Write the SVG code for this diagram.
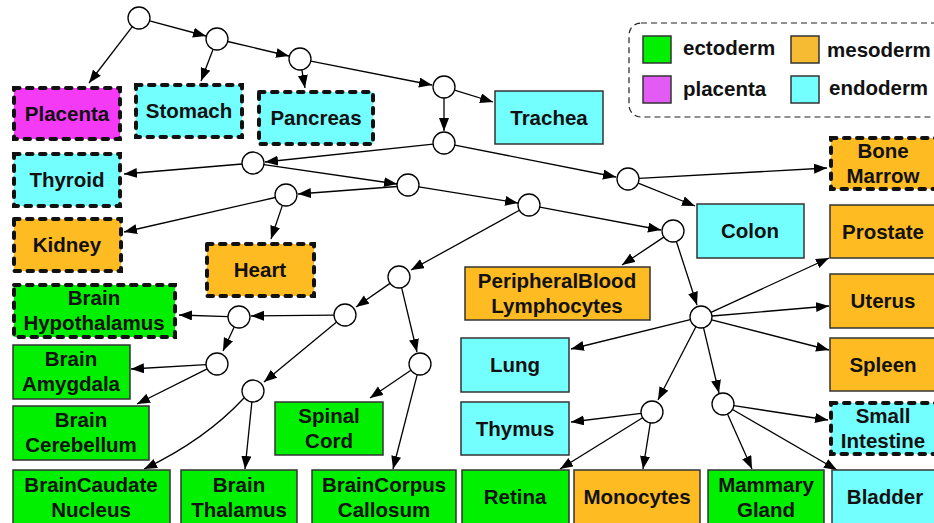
<svg xmlns="http://www.w3.org/2000/svg" width="934" height="523" viewBox="0 0 934 523">
<defs>
<marker id="ah" markerUnits="userSpaceOnUse" markerWidth="14" markerHeight="11" refX="13" refY="5" orient="auto">
<path d="M0,0 L13,5 L0,10 z" fill="#000"/>
</marker>
<style>
text{font-family:"Liberation Sans",Arial,sans-serif;font-weight:bold;font-size:20.5px;fill:#111;text-anchor:middle}
.lg{text-anchor:start}
.s{stroke:#333;stroke-width:1.5}
.d{stroke:#111;stroke-width:4;stroke-dasharray:5.5 7.5;stroke-linecap:round}
.ec{fill:#00F000}.me{fill:#FFBB22}.en{fill:#74FFFF}.pl{fill:#F53AF5}
.c{fill:#fff;stroke:#000;stroke-width:1.3}
#edges line,#edges path{stroke:#000;stroke-width:1.3;fill:none;marker-end:url(#ah)}
</style>
</defs>
<rect width="934" height="523" fill="#fff"/>
<g id="legend">
<rect x="629" y="23" width="320" height="94" rx="12" fill="none" stroke="#222" stroke-width="1.2" stroke-dasharray="6 4"/>
<rect x="643" y="36" width="28" height="27" fill="#00F000" stroke="#333" stroke-width="1.5"/>
<rect x="643" y="76" width="28" height="27" fill="#E35BF5" stroke="#333" stroke-width="1.5"/>
<rect x="791" y="36" width="28" height="27" fill="#F7BA33" stroke="#333" stroke-width="1.5"/>
<rect x="791" y="76" width="28" height="27" fill="#74FFFF" stroke="#333" stroke-width="1.5"/>
<text class="lg" x="683" y="55">ectoderm</text>
<text class="lg" x="683" y="96">placenta</text>
<text class="lg" x="827" y="57">mesoderm</text>
<text class="lg" x="829" y="95">endoderm</text>
</g>
<g id="edges">
<line x1="132.3" y1="26.7" x2="89" y2="83"/>
<line x1="149.6" y1="20.8" x2="206" y2="36"/>
<line x1="213.1" y1="49.3" x2="201" y2="81"/>
<line x1="227.7" y1="41.5" x2="289" y2="56"/>
<line x1="301.9" y1="69.8" x2="305" y2="88"/>
<line x1="310.8" y1="61.1" x2="432" y2="85"/>
<line x1="454.5" y1="90.2" x2="493" y2="102"/>
<line x1="444" y1="98" x2="444" y2="131"/>
<line x1="433.1" y1="144.2" x2="265" y2="162"/>
<line x1="242" y1="164" x2="124" y2="174"/>
<line x1="263.9" y1="164.6" x2="397" y2="184"/>
<line x1="397" y1="186.5" x2="298" y2="194"/>
<line x1="418.9" y1="186.8" x2="518" y2="203"/>
<line x1="275.3" y1="197.5" x2="124" y2="232"/>
<line x1="282.4" y1="205.4" x2="271" y2="239"/>
<line x1="454.8" y1="145.1" x2="616" y2="177"/>
<line x1="639" y1="178.4" x2="827" y2="168"/>
<line x1="638.2" y1="183.1" x2="695" y2="206"/>
<line x1="539.8" y1="207.1" x2="661" y2="230"/>
<line x1="519.4" y1="210.3" x2="411" y2="270"/>
<line x1="663.8" y1="237.1" x2="622" y2="265"/>
<line x1="676.4" y1="241.5" x2="697" y2="305"/>
<line x1="390" y1="283.4" x2="356" y2="307"/>
<line x1="401.6" y1="287.7" x2="417" y2="352"/>
<line x1="334" y1="315.1" x2="251" y2="316"/>
<line x1="336.6" y1="322.1" x2="264" y2="382"/>
<line x1="228" y1="316.6" x2="179" y2="315"/>
<line x1="234.2" y1="326.9" x2="223" y2="351"/>
<line x1="206" y1="364.6" x2="131" y2="369"/>
<line x1="207.2" y1="368.9" x2="137" y2="404"/>
<path d="M244,398 Q205,440 144,469"/>
<line x1="251.9" y1="401.9" x2="245" y2="469"/>
<line x1="410.9" y1="370.2" x2="370" y2="398"/>
<line x1="417.2" y1="374.6" x2="393" y2="469"/>
<line x1="711" y1="312.4" x2="829" y2="258"/>
<line x1="712" y1="316" x2="829" y2="306"/>
<line x1="711.6" y1="319.8" x2="829" y2="350"/>
<line x1="690.3" y1="319.7" x2="571" y2="349"/>
<line x1="695.9" y1="326.8" x2="658" y2="400"/>
<line x1="703.5" y1="327.7" x2="719" y2="393"/>
<line x1="641.1" y1="413.4" x2="571" y2="422"/>
<line x1="642.6" y1="417.8" x2="560" y2="469"/>
<line x1="650.3" y1="422.9" x2="643" y2="469"/>
<line x1="733.9" y1="405.7" x2="828" y2="420"/>
<line x1="727.5" y1="414" x2="752" y2="469"/>
<line x1="732.5" y1="409.5" x2="837" y2="470"/>
</g>
<g id="n-c1"><circle class="c" cx="139" cy="18" r="11"/></g>
<g id="n-c2"><circle class="c" cx="217" cy="39" r="11"/></g>
<g id="n-c3"><circle class="c" cx="300" cy="59" r="11"/></g>
<g id="n-c4"><circle class="c" cx="444" cy="87" r="11"/></g>
<g id="n-c5"><circle class="c" cx="444" cy="143" r="11"/></g>
<g id="n-c6"><circle class="c" cx="253" cy="163" r="11"/></g>
<g id="n-c7"><circle class="c" cx="408" cy="185" r="11"/></g>
<g id="n-c8"><circle class="c" cx="628" cy="179" r="11"/></g>
<g id="n-c9"><circle class="c" cx="529" cy="205" r="11"/></g>
<g id="n-c10"><circle class="c" cx="286" cy="195" r="11"/></g>
<g id="n-c11"><circle class="c" cx="673" cy="231" r="11"/></g>
<g id="n-c12"><circle class="c" cx="399" cy="277" r="11"/></g>
<g id="n-c13"><circle class="c" cx="345" cy="315" r="11"/></g>
<g id="n-c14"><circle class="c" cx="239" cy="317" r="11"/></g>
<g id="n-c15"><circle class="c" cx="420" cy="364" r="11"/></g>
<g id="n-c16"><circle class="c" cx="217" cy="364" r="11"/></g>
<g id="n-c17"><circle class="c" cx="253" cy="391" r="11"/></g>
<g id="n-c18"><circle class="c" cx="701" cy="317" r="11"/></g>
<g id="n-c19"><circle class="c" cx="652" cy="412" r="11"/></g>
<g id="n-c20"><circle class="c" cx="723" cy="404" r="11"/></g>
<g id="n-placenta"><rect class="pl d" x="14" y="88" width="106" height="51"/><text x="67" y="121">Placenta</text></g>
<g id="n-stomach"><rect class="en d" x="136" y="85" width="106" height="52"/><text x="189" y="118">Stomach</text></g>
<g id="n-pancreas"><rect class="en d" x="259" y="92" width="114" height="52"/><text x="316" y="125">Pancreas</text></g>
<g id="n-trachea"><rect class="en s" x="495" y="91" width="108" height="53"/><text x="549" y="125">Trachea</text></g>
<g id="n-thyroid"><rect class="en d" x="14" y="154" width="106" height="52"/><text x="67" y="187">Thyroid</text></g>
<g id="n-kidney"><rect class="me d" x="14" y="219" width="107" height="52"/><text x="67" y="252">Kidney</text></g>
<g id="n-heart"><rect class="me d" x="207" y="244" width="107" height="52"/><text x="260" y="277">Heart</text></g>
<g id="n-hypothalamus"><rect class="ec d" x="14" y="285" width="161" height="52"/><text x="94" y="305">Brain</text><text x="94" y="330">Hypothalamus</text></g>
<g id="n-amygdala"><rect class="ec s" x="13" y="345" width="117" height="54"/><text x="71" y="366">Brain</text><text x="71" y="391">Amygdala</text></g>
<g id="n-cerebellum"><rect class="ec s" x="13" y="406" width="136" height="54"/><text x="81" y="427">Brain</text><text x="81" y="452">Cerebellum</text></g>
<g id="n-caudate"><rect class="ec s" x="13" y="470" width="157" height="55"/><text x="91" y="492">BrainCaudate</text><text x="91" y="517">Nucleus</text></g>
<g id="n-thalamus"><rect class="ec s" x="181" y="470" width="116" height="55"/><text x="239" y="492">Brain</text><text x="239" y="517">Thalamus</text></g>
<g id="n-spinal"><rect class="ec s" x="275" y="402" width="108" height="53"/><text x="329" y="423">Spinal</text><text x="329" y="448">Cord</text></g>
<g id="n-corpus"><rect class="ec s" x="312" y="470" width="144" height="55"/><text x="384" y="492">BrainCorpus</text><text x="384" y="517">Callosum</text></g>
<g id="n-retina"><rect class="ec s" x="462" y="470" width="107" height="55"/><text x="515" y="504">Retina</text></g>
<g id="n-monocytes"><rect class="me s" x="574" y="470" width="126" height="55"/><text x="637" y="504">Monocytes</text></g>
<g id="n-mammary"><rect class="ec s" x="708" y="470" width="116" height="55"/><text x="766" y="492">Mammary</text><text x="766" y="517">Gland</text></g>
<g id="n-bladder"><rect class="en s" x="832" y="470" width="108" height="55"/><text x="885" y="504">Bladder</text></g>
<g id="n-pbl"><rect class="me s" x="465" y="267" width="185" height="53"/><text x="557" y="288">PeripheralBlood</text><text x="557" y="313">Lymphocytes</text></g>
<g id="n-lung"><rect class="en s" x="461" y="338" width="108" height="54"/><text x="515" y="372">Lung</text></g>
<g id="n-thymus"><rect class="en s" x="461" y="402" width="108" height="53"/><text x="515" y="436">Thymus</text></g>
<g id="n-colon"><rect class="en s" x="697" y="204" width="107" height="54"/><text x="750" y="238">Colon</text></g>
<g id="n-bonemarrow"><rect class="me d" x="831" y="138" width="106" height="51"/><text x="883" y="158">Bone</text><text x="883" y="183">Marrow</text></g>
<g id="n-prostate"><rect class="me s" x="830" y="205" width="108" height="53"/><text x="883" y="239">Prostate</text></g>
<g id="n-uterus"><rect class="me s" x="830" y="274" width="108" height="54"/><text x="883" y="308">Uterus</text></g>
<g id="n-spleen"><rect class="me s" x="830" y="338" width="108" height="53"/><text x="883" y="372">Spleen</text></g>
<g id="n-smallintestine"><rect class="en d" x="831" y="403" width="106" height="51"/><text x="883" y="423">Small</text><text x="883" y="448">Intestine</text></g>
</svg>
